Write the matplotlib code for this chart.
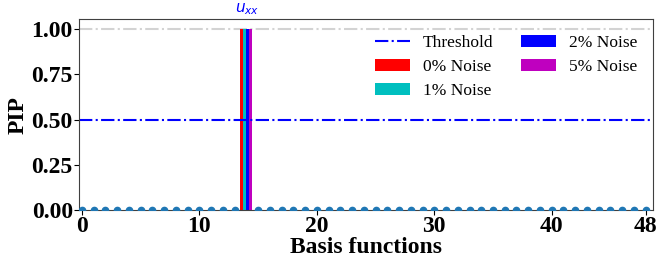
import numpy as np
import matplotlib.pyplot as plt

plt.rcParams['font.family'] = 'Liberation Serif'
plt.rcParams['mathtext.fontset'] = 'dejavusans'

# PIP per basis function (49 candidates), only u_xx (index 14) is selected
n_basis = 49
selected = 14
noise_labels = ["0% Noise", "1% Noise", "2% Noise", "5% Noise"]
noise_colors = ["r", "c", "b", "m"]
pip_0 = [0.0] * n_basis
pip_0[selected] = 1.0
pip_1 = list(pip_0)
pip_2 = list(pip_0)
pip_5 = list(pip_0)
all_pips = [pip_0, pip_1, pip_2, pip_5]
threshold = 0.5
xticks = [0, 10, 20, 30, 40, 48]

idx = np.arange(n_basis)

fig = plt.figure(figsize=(6.64, 2.68), dpi=100)
ax = fig.add_axes([0.119, 0.216, 0.864, 0.713])

ax.axhline(1.0, color="lightgray", ls="-.", lw=1.5, zorder=0)
ax.axhline(threshold, color="b", ls="-.", lw=1.5, label="Threshold")

w = 0.25
for k, (p, lab, col) in enumerate(zip(all_pips, noise_labels, noise_colors)):
    ax.bar(idx + (k - 1.5) * w, p, width=w, color=col, label=lab)

# zero-probability markers for the unselected terms
mask = np.array(pip_0) == 0
ax.plot(idx[mask], np.array(pip_0)[mask], "o", color="#1f77b4", ms=4.5,
        zorder=3)

ax.text(selected + 0.1, 1.068, r"$u_{xx}$", color="b", ha="center",
        va="bottom", fontsize=11)

ax.set_xlim(-0.25, 48.6)
ax.set_ylim(0, 1.055)
ax.set_xticks(xticks)
ax.set_yticks([0, 0.25, 0.5, 0.75, 1.0])
ax.set_yticklabels(["0.00", "0.25", "0.50", "0.75", "1.00"])
for lab in ax.get_xticklabels() + ax.get_yticklabels():
    lab.set_fontweight("bold")
    lab.set_fontsize(17)
ax.tick_params(pad=1)
ax.set_xlabel("Basis functions", fontsize=17, fontweight="bold", labelpad=0)
ax.set_ylabel("PIP", fontsize=17, fontweight="bold", labelpad=2)
for s in ax.spines.values():
    s.set_color("0.25")

ax.legend(ncol=2, frameon=False, fontsize=12.5, loc="upper right",
          bbox_to_anchor=(1.0, 1.0), handlelength=2.0, columnspacing=1.6,
          labelspacing=0.45, handletextpad=0.75)

fig.savefig("out.png", dpi=100)
